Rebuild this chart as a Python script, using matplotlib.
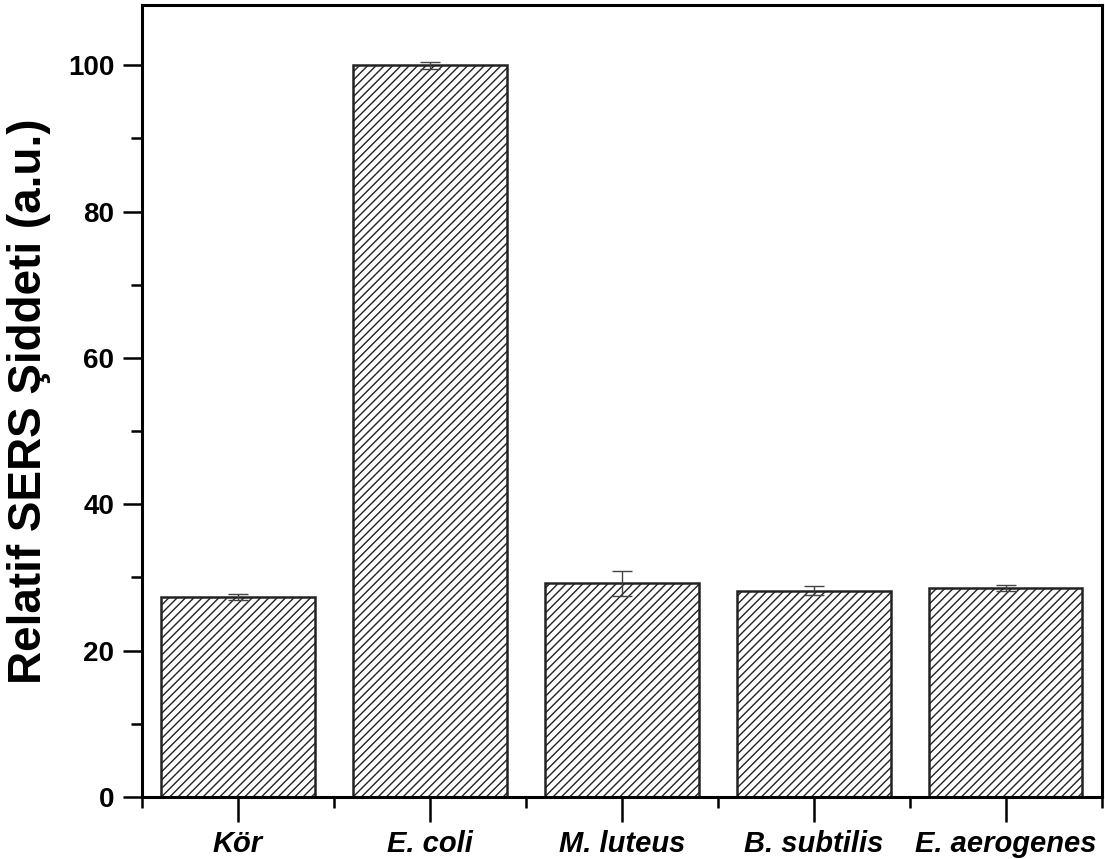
import matplotlib.pyplot as plt
from matplotlib.ticker import MultipleLocator

# bar data
groups = ["Kör", "E. coli", "M. luteus", "B. subtilis", "E. aerogenes"]
values = [27.3, 100.0, 29.2, 28.2, 28.5]
errors = [0.4, 0.5, 1.7, 0.6, 0.4]

plt.rcParams['font.family'] = ['Liberation Sans', 'DejaVu Sans']
plt.rcParams['hatch.linewidth'] = 1.0

fig = plt.figure(figsize=(11.05, 8.59), dpi=100)
ax = fig.add_axes([0.1285, 0.0722, 0.8685, 0.9218])

x = list(range(len(groups)))
ax.bar(x, values, width=0.8, color='white', edgecolor='#222222',
       linewidth=1.8, hatch='////', zorder=2)
ax.errorbar(x, values, yerr=errors, fmt='none', ecolor='#444444',
            elinewidth=1.0, capsize=7.5, capthick=1.0, zorder=3)

ax.set_xlim(-0.5, 4.5)
ax.set_ylim(0, 108.2)
ax.set_xticks(x)
ax.set_xticklabels(groups, fontsize=21, fontweight='bold', style='italic')
ax.xaxis.set_minor_locator(MultipleLocator(1, offset=0.5))
ax.yaxis.set_major_locator(MultipleLocator(20))
ax.yaxis.set_minor_locator(MultipleLocator(10))

for lbl in ax.get_yticklabels():
    lbl.set_fontweight('bold')
ax.tick_params(axis='y', labelsize=20)
ax.tick_params(which='major', length=14, width=1.8, direction='out', pad=6)
ax.tick_params(which='minor', length=8, width=1.8, direction='out')
ax.tick_params(axis='x', which='major', length=18, pad=6)

for s in ax.spines.values():
    s.set_linewidth(2.2)

ax.set_ylabel('Relatif SERS Şiddeti (a.u.)', fontsize=33, fontweight='bold', labelpad=12)

fig.savefig('out.png', dpi=100)
